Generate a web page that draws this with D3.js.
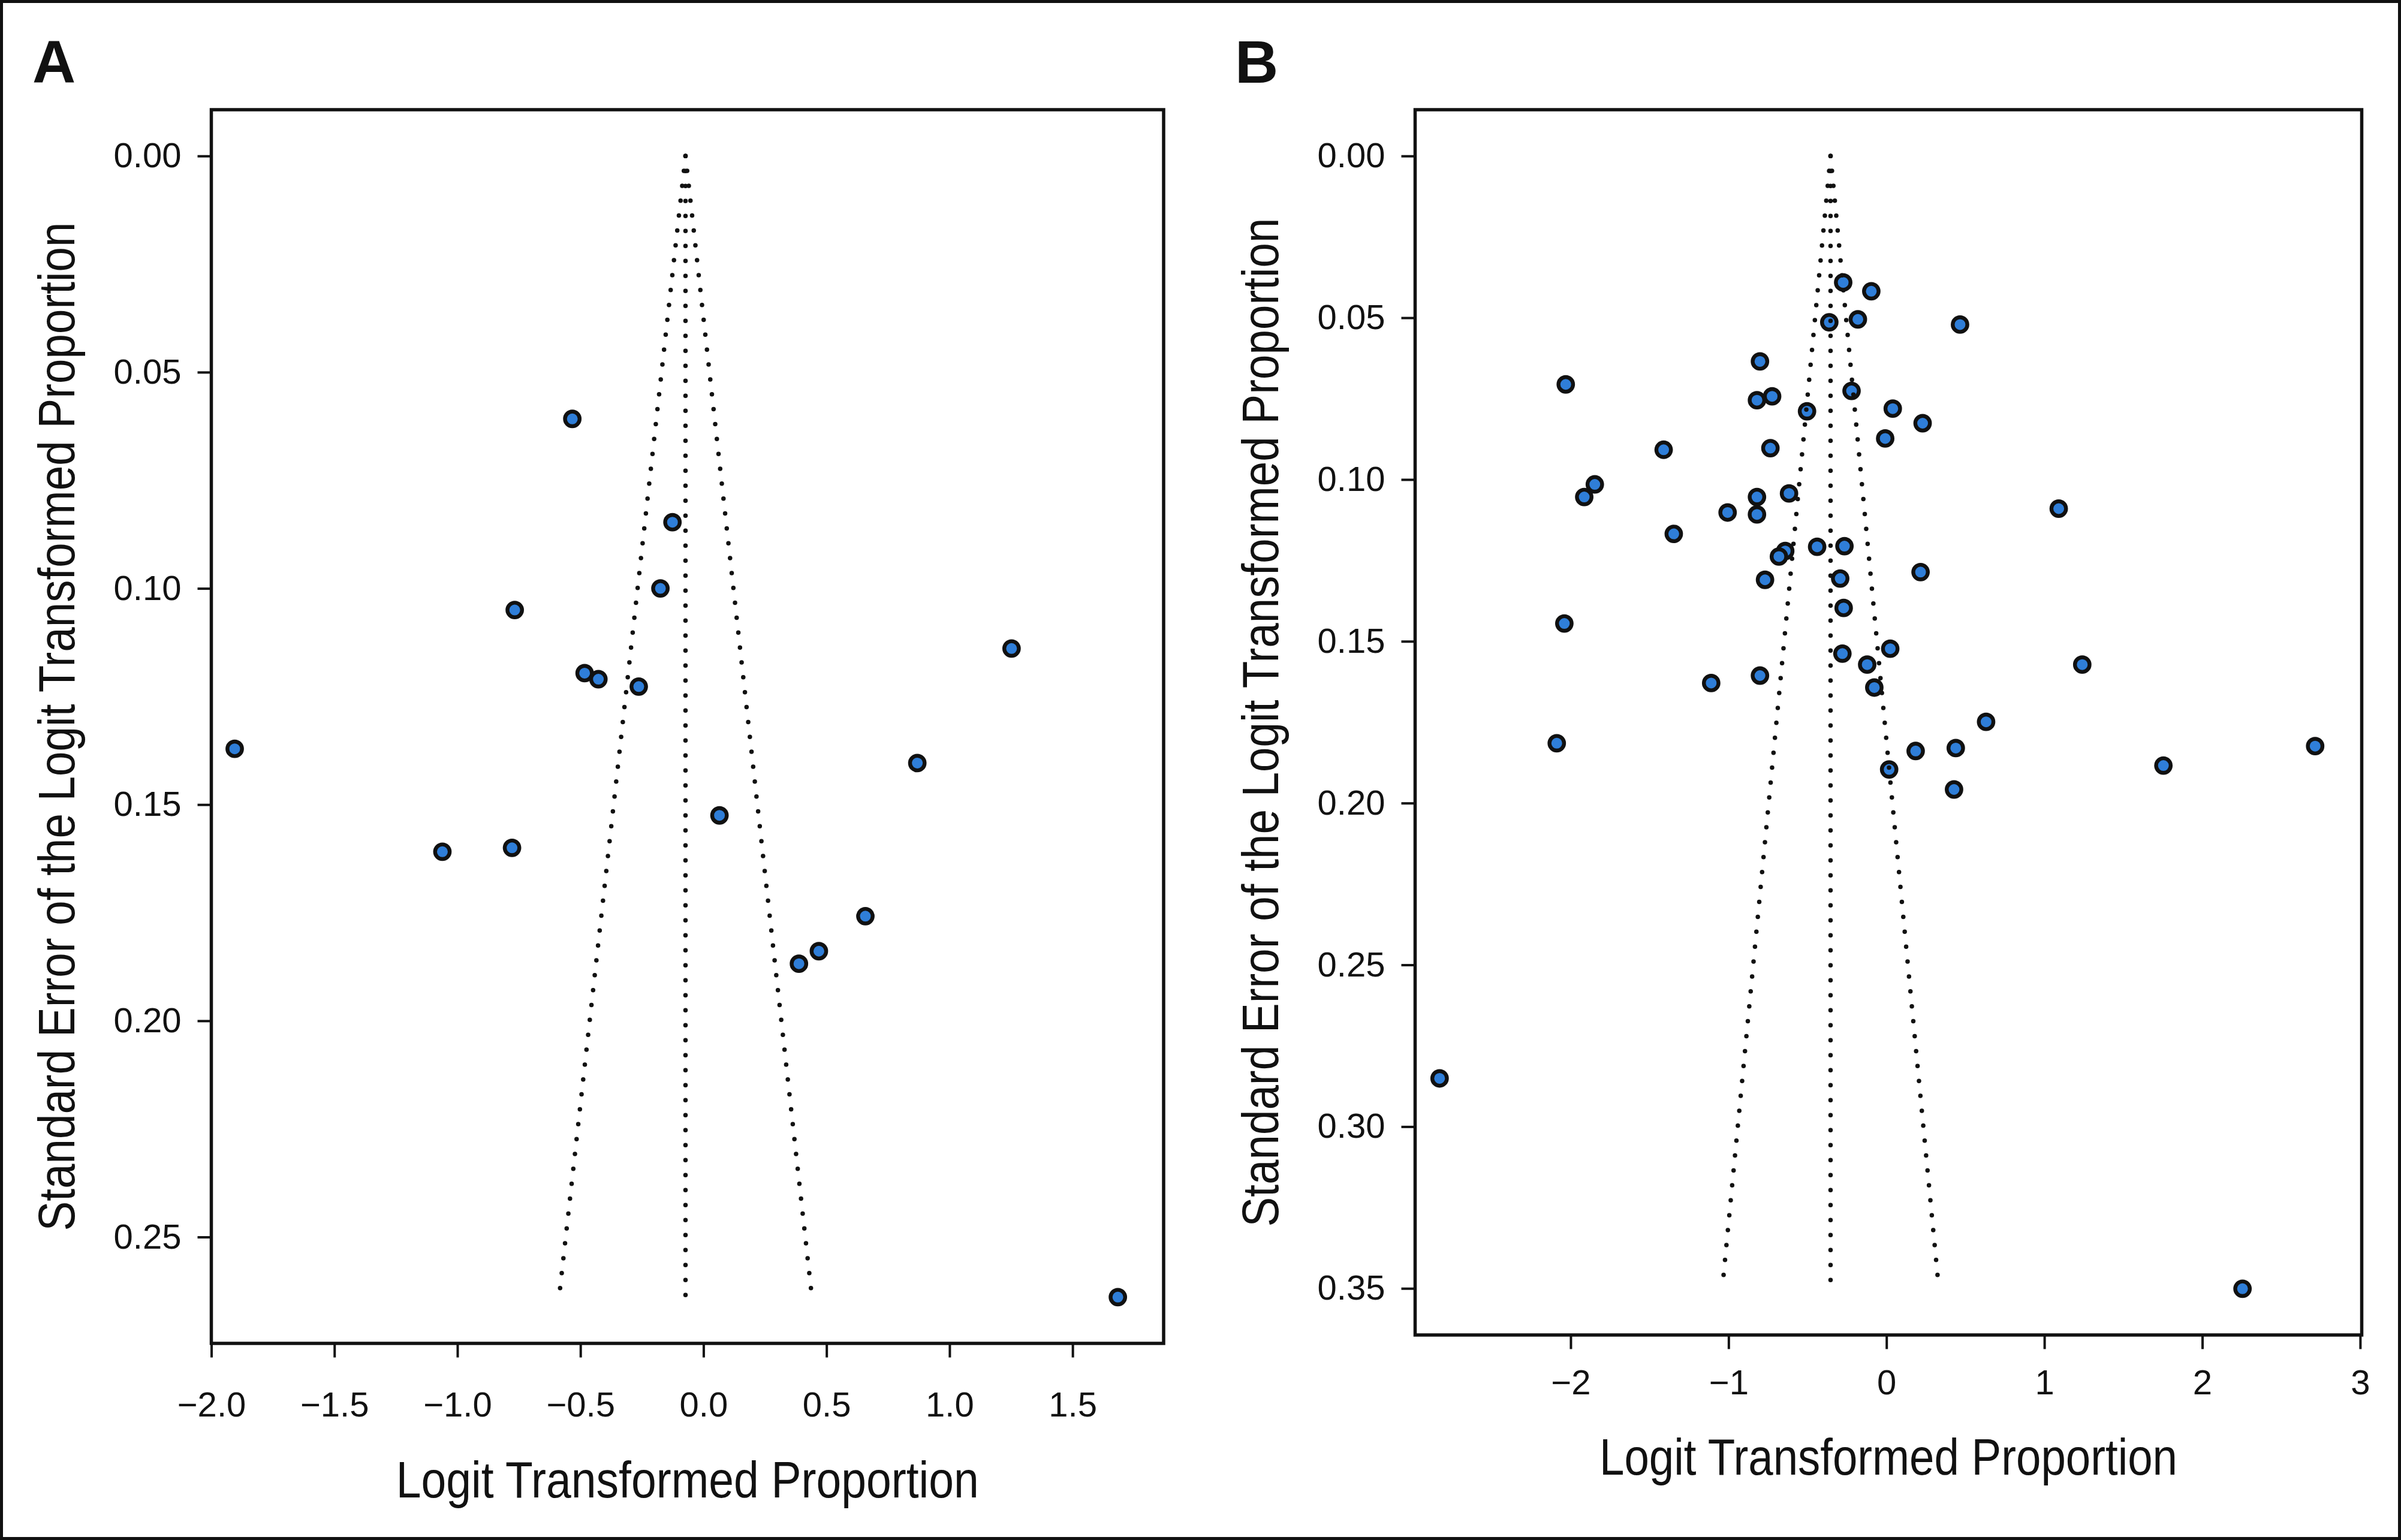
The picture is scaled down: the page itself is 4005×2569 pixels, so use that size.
<!DOCTYPE html>
<html>
<head>
<meta charset="utf-8">
<script src="https://cdn.jsdelivr.net/npm/d3@7"></script>
<style>
  html, body { margin: 0; padding: 0; background: #fff; }
  svg { display: block; }
  text { font-family: "Liberation Sans", Arial, Helvetica, sans-serif; fill: #111; }
</style>
</head>
<body>
<script>
// panel A: logit transformed proportion and its standard error, one per study
let logitA = [-0.533, -0.126, -0.175, -0.767, -0.483, -0.427, -0.263, -1.905, 1.252,
              0.869, 0.065, -1.061, -0.778, 0.658, 0.469, 0.388, 1.684];
let seA = [0.0608, 0.0847, 0.1000, 0.1050, 0.1196, 0.1210, 0.1227, 0.1371, 0.1139,
           0.1404, 0.1525, 0.1609, 0.1600, 0.1758, 0.1839, 0.1868, 0.2639];

// panel B
let logitB = [-0.274, -0.096, -0.362, -0.181, 0.466, -0.801, -2.031, -0.724, -0.820, -0.221,
              -0.503, 0.040, 0.229, -0.008, -1.411, -0.735, -1.847, -1.914, -0.820, -0.617,
              -1.006, -0.820, -1.347, -0.641, -0.681, -0.439, -0.266, 0.216, -0.769, -0.293,
              -0.271, -2.040, -0.279, 0.024, -0.122, -0.801, -1.110, -0.077, 0.631, -2.088,
              0.185, 0.439, 0.017, 0.428, 2.715, 1.754, 1.091, 1.240, -2.830, 2.255];
let seB = [0.0391, 0.0418, 0.0514, 0.0505, 0.0521, 0.0635, 0.0706, 0.0743, 0.0755, 0.0726,
           0.0789, 0.0781, 0.0826, 0.0873, 0.0908, 0.0903, 0.1015, 0.1054, 0.1054, 0.1043,
           0.1102, 0.1108, 0.1168, 0.1221, 0.1238, 0.1208, 0.1206, 0.1286, 0.1310, 0.1306,
           0.1397, 0.1445, 0.1538, 0.1523, 0.1572, 0.1606, 0.1629, 0.1643, 0.1749, 0.1815,
           0.1839, 0.1830, 0.1896, 0.1958, 0.1824, 0.1884, 0.1090, 0.1572, 0.2851, 0.3501];

// funnel lines: [x at se=0, se=0, x at bottom, se at bottom]
let funnelA = [[-0.073, 0, -0.073, 0.2635], [-0.073, 0, -0.586, 0.2635], [-0.073, 0, 0.440, 0.2635]];
let funnelB = [[-0.354, 0, -0.354, 0.3502], [-0.354, 0, -1.040, 0.3502], [-0.354, 0, 0.332, 0.3502]];

// tick labels
let xTicksA = [-2.0, -1.5, -1.0, -0.5, 0.0, 0.5, 1.0, 1.5];
let yTicksA = [0.00, 0.05, 0.10, 0.15, 0.20, 0.25];
let xTicksB = [-2, -1, 0, 1, 2, 3];
let yTicksB = [0.00, 0.05, 0.10, 0.15, 0.20, 0.25, 0.30, 0.35];

let xTitle = 'Logit Transformed Proportion';
let yTitle = 'Standard Error of the Logit Transformed Proportion';

let W = 4005, H = 2569;
let ink = '#111';
let dotFill = '#2f7ed8';

let svg = d3.select('body').append('svg')
    .attr('width', W)
    .attr('height', H);

svg.append('rect')
    .attr('width', W).attr('height', H)
    .attr('fill', '#fff');

//outer border round the whole figure
svg.append('rect')
    .attr('x', 2.5).attr('y', 2.5)
    .attr('width', W - 5).attr('height', H - 5)
    .attr('fill', 'none')
    .attr('stroke', ink)
    .attr('stroke-width', 5);

let panels = [
    {letter: 'A', letterX: 54, xs: logitA, ys: seA, funnel: funnelA,
     xDomain: [-2.0, 1.87], yDomain: [-0.0107, 0.2746],
     left: 352.5, right: 1941, top: 183, bottom: 2241,
     xTicks: xTicksA, yTicks: yTicksA, xFmt: d3.format('.1f'),
     xPad: 57, xTitleY: 2498, xTitleLen: 972, yTitleX: 124, yTitleLen: 1683},
    {letter: 'B', letterX: 2060, xs: logitB, ys: seB, funnel: funnelB,
     xDomain: [-2.985, 3.01], yDomain: [-0.0143, 0.3644],
     left: 2360.5, right: 3939.5, top: 183, bottom: 2227,
     xTicks: xTicksB, yTicks: yTicksB, xFmt: d3.format('d'),
     xPad: 34, xTitleY: 2460, xTitleLen: 964, yTitleX: 2132, yTitleLen: 1683}
];

panels.forEach((p) => {
    let x = d3.scaleLinear().domain(p.xDomain).range([p.left, p.right]);
    let y = d3.scaleLinear().domain(p.yDomain).range([p.top, p.bottom]);
    let g = svg.append('g');

    //panel letter
    g.append('text')
        .attr('x', p.letterX)
        .attr('y', 138)
        .attr('font-size', 100)
        .attr('font-weight', 'bold')
        .text(p.letter);

    //left axis
    let yAxis = d3.axisLeft(y)
        .tickValues(p.yTicks)
        .tickFormat(d3.format('.2f'))
        .tickSize(23)
        .tickPadding(27);
    let ya = g.append('g')
        .attr('transform', 'translate(' + p.left + ',0)')
        .call(yAxis);

    //bottom axis
    let xAxis = d3.axisBottom(x)
        .tickValues(p.xTicks)
        .tickFormat(p.xFmt)
        .tickSize(23.5)
        .tickPadding(p.xPad);
    let xa = g.append('g')
        .attr('transform', 'translate(0,' + p.bottom + ')')
        .call(xAxis);

    [ya, xa].forEach((a) => {
        a.select('.domain').remove();
        a.selectAll('line').attr('stroke', ink).attr('stroke-width', 4);
        a.selectAll('text')
            .attr('font-size', 58)
            .attr('font-family', '"Liberation Sans", Arial, sans-serif')
            .attr('fill', ink);
    });

    //study points
    g.selectAll('circle.study')
        .data(p.xs.map((v, i) => [v, p.ys[i]]))
        .enter()
        .append('circle')
        .attr('class', 'study')
        .attr('cx', (d) => x(d[0]))
        .attr('cy', (d) => y(d[1]))
        .attr('r', 12.2)
        .attr('fill', dotFill)
        .attr('stroke', ink)
        .attr('stroke-width', 6.4);

    //dotted funnel, drawn over the points like in the original
    g.selectAll('line.funnel')
        .data(p.funnel)
        .enter()
        .append('line')
        .attr('class', 'funnel')
        .attr('x1', (d) => x(d[0]))
        .attr('y1', (d) => y(d[1]))
        .attr('x2', (d) => x(d[2]))
        .attr('y2', (d) => y(d[3]))
        .attr('stroke', ink)
        .attr('stroke-width', 7.5)
        .attr('stroke-linecap', 'round')
        .attr('stroke-dasharray', '0 25');

    //plot frame
    g.append('rect')
        .attr('x', p.left).attr('y', p.top)
        .attr('width', p.right - p.left)
        .attr('height', p.bottom - p.top)
        .attr('fill', 'none')
        .attr('stroke', ink)
        .attr('stroke-width', 5.5);

    //axis titles, a condensed face squeezed to the measured length
    g.append('text')
        .attr('x', (p.left + p.right) / 2)
        .attr('y', p.xTitleY)
        .attr('text-anchor', 'middle')
        .attr('font-size', 85)
        .attr('textLength', p.xTitleLen)
        .attr('lengthAdjust', 'spacingAndGlyphs')
        .text(xTitle);

    g.append('text')
        .attr('transform', 'translate(' + p.yTitleX + ',' + (p.top + p.bottom) / 2 + ') rotate(-90)')
        .attr('text-anchor', 'middle')
        .attr('font-size', 85)
        .attr('textLength', p.yTitleLen)
        .attr('lengthAdjust', 'spacingAndGlyphs')
        .text(yTitle);
});
</script>
</body>
</html>
